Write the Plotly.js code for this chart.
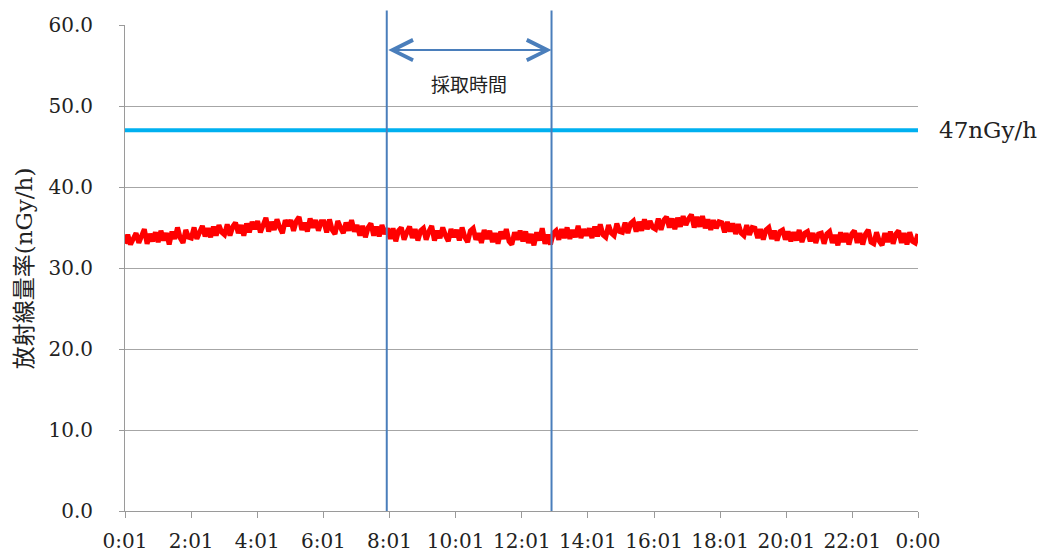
<!DOCTYPE html>
<html>
<head>
<meta charset="utf-8">
<script src="https://cdn.plot.ly/plotly-3.0.1.min.js"></script>
<style>html,body{margin:0;padding:0;background:#fff;}#chart{width:1054px;height:559px;}</style>
</head>
<body>
<div id="chart"></div>
<script>
// 5-minute readings of the air dose rate (nGy/h), 0:01 -> 0:00
const doseRate = [
  33.0,34.1,32.9,33.8,34.3,33.1,33.9,34.8,33.0,34.2,33.3,34.4,
  33.2,34.6,33.4,34.3,32.9,34.5,33.6,35.0,33.7,33.1,34.7,33.8,
  33.7,35.0,33.6,34.6,35.2,33.9,34.9,33.8,35.1,34.0,35.3,34.4,
  34.1,35.4,34.0,35.1,35.6,34.3,35.3,34.0,35.5,34.4,35.7,34.8,
  35.8,34.4,35.5,36.2,34.5,35.7,34.7,36.0,35.0,34.3,35.9,35.2,
  35.9,34.6,35.8,36.3,34.7,35.6,34.5,36.1,35.0,35.9,34.6,35.7,
  35.7,34.4,36.0,34.7,34.2,35.8,35.0,34.3,35.6,34.6,35.9,34.5,
  35.3,34.0,35.2,33.8,35.0,35.5,34.0,35.1,33.9,35.3,34.2,34.9,
  33.6,34.9,33.3,34.6,35.0,33.5,34.4,35.1,33.7,34.8,33.4,34.6,
  34.9,33.5,34.5,35.2,33.4,34.6,33.7,35.0,34.0,33.3,34.8,33.8,
  34.7,33.4,35.0,33.8,33.2,34.6,34.9,33.5,34.3,33.1,34.7,33.6,
  34.6,33.2,34.3,33.0,34.5,33.6,34.8,33.3,32.9,34.4,33.5,34.6,
  33.3,34.5,33.1,34.2,32.8,34.4,33.4,34.9,33.0,34.1,32.9,34.3,
  34.6,33.5,34.8,33.7,35.0,33.6,34.7,33.8,35.2,33.7,34.8,34.0,
  34.9,33.7,35.1,33.9,35.4,34.1,33.8,35.3,34.3,34.0,35.5,34.5,
  34.4,35.6,34.3,35.5,35.8,34.5,35.7,34.6,36.0,34.8,35.8,35.0,
  34.8,36.1,34.7,35.9,36.3,35.0,36.1,34.8,36.2,35.1,36.4,35.3,
  36.1,36.6,35.0,36.3,35.1,36.4,34.9,36.0,34.7,35.9,34.9,35.7,
  35.6,34.4,35.7,34.5,35.5,34.2,35.4,34.3,34.0,35.3,34.1,35.0,
  34.9,33.7,34.8,33.5,34.7,35.0,33.6,34.6,33.4,34.5,34.7,33.5,
  34.5,33.3,34.4,33.4,34.7,33.2,34.3,34.5,33.3,34.3,33.1,34.2,
  34.3,33.0,34.2,34.5,33.1,34.1,32.8,34.4,33.2,34.3,32.9,34.2,
  34.6,33.1,34.3,32.9,34.2,34.7,33.2,33.0,34.4,33.3,32.8,34.3,
  33.2,34.5,33.0,34.2,34.6,33.1,34.3,32.9,34.4,33.3,33.1,34.2
];
const firstMinute = 1;      // 0:01
const lastMinute = 1440;    // 0:00 (next day)
const tickMinutes = [1,121,241,361,481,601,721,841,961,1081,1201,1321,1440];
const tickLabels = ["0:01","2:01","4:01","6:01","8:01","10:01","12:01","14:01","16:01","18:01","20:01","22:01","0:00"];
const yTicks = [0,10,20,30,40,50,60];
const referenceLevel = 47;  // nGy/h
const referenceLabel = "47nGy/h";
const samplingStart = 476;  // minute index of sampling start line
const samplingEnd = 775;    // minute index of sampling end line
const samplingLabel = "採取時間";
const yTitle = "放射線量率(nGy/h)";

const xs = doseRate.map((_, i) => firstMinute + i * (lastMinute - firstMinute) / (doseRate.length - 1));

const serif = "DejaVu Serif, Liberation Serif, serif";
const lineBlue = "#4a7ebb";

const traces = [
  {x: xs, y: doseRate, type: "scatter", mode: "lines",
   line: {color: "#ff0000", width: 5}, hoverinfo: "skip"},
  {x: [firstMinute, lastMinute], y: [referenceLevel, referenceLevel], type: "scatter", mode: "lines",
   line: {color: "#00b0f0", width: 4}, hoverinfo: "skip"}
];

const layout = {
  width: 1054, height: 559,
  margin: {l: 125, r: 136, t: 25, b: 48},
  paper_bgcolor: "#ffffff", plot_bgcolor: "#ffffff",
  showlegend: false,
  font: {family: serif, size: 20, color: "#222"},
  xaxis: {
    range: [firstMinute, lastMinute],
    tickmode: "array", tickvals: tickMinutes, ticktext: tickLabels,
    showgrid: false, zeroline: false,
    showline: true, linecolor: "#9a9a9a", linewidth: 1,
    ticks: "outside", ticklen: 6, tickcolor: "#9a9a9a",
    ticklabelstandoff: 6,
    tickfont: {family: serif, size: 20, color: "#222"}
  },
  yaxis: {
    range: [0, 60],
    tickmode: "array", tickvals: yTicks, tickformat: ".1f",
    showgrid: true, gridcolor: "#a6a6a6", gridwidth: 1,
    zeroline: false,
    showline: true, linecolor: "#9a9a9a", linewidth: 1,
    ticks: "outside", ticklen: 5, tickcolor: "#9a9a9a",
    ticklabelstandoff: 22,
    tickfont: {family: serif, size: 20, color: "#222"}
  },
  shapes: [
    {type: "line", xref: "x", yref: "paper", x0: samplingStart, x1: samplingStart, y0: 0, y1: 1.03,
     line: {color: lineBlue, width: 2}},
    {type: "line", xref: "x", yref: "paper", x0: samplingEnd, x1: samplingEnd, y0: 0, y1: 1.03,
     line: {color: lineBlue, width: 2}}
  ],
  annotations: [
    {x: samplingEnd, y: 56.9, xref: "x", yref: "y", ax: samplingStart, ay: 56.9, axref: "x", ayref: "y",
     text: "", showarrow: true, arrowside: "end+start", arrowhead: 5, startarrowhead: 5,
     arrowsize: 2, startarrowsize: 2, arrowwidth: 2, arrowcolor: lineBlue,
     standoff: 0, startstandoff: 0},
    {x: (samplingStart + samplingEnd) / 2, y: 52.8, xref: "x", yref: "y", text: samplingLabel,
     showarrow: false, font: {family: "Noto Sans CJK JP", size: 19, color: "#222"}},
    {x: 1.024, y: referenceLevel, xref: "paper", yref: "y", text: referenceLabel, showarrow: false,
     xanchor: "left", yanchor: "middle", font: {family: serif, size: 23, color: "#222"}},
    {x: -0.127, y: 0.5, xref: "paper", yref: "paper", text: yTitle, showarrow: false,
     textangle: -90, xanchor: "center", yanchor: "middle",
     font: {family: "DejaVu Serif, Noto Sans CJK JP", size: 23, color: "#222"}}
  ]
};

Plotly.newPlot("chart", traces, layout, {staticPlot: true, displayModeBar: false});
</script>
</body>
</html>
